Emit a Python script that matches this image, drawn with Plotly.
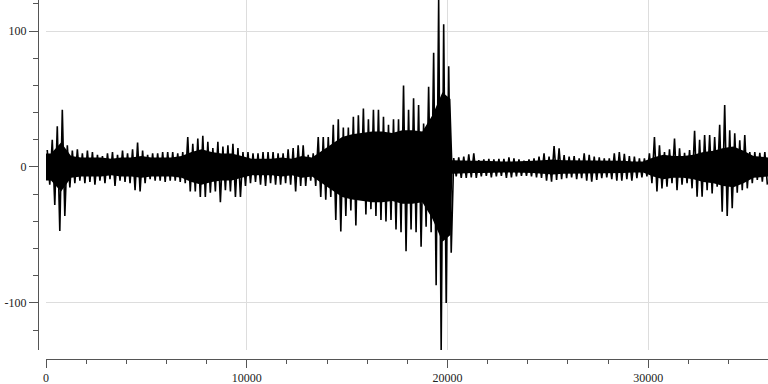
import plotly.graph_objects as go

# ---- data ----
# extremes (min/max) of the trace per 250-sample bin
bin_width = 250
n_samples = 35970

env_max = [
    12.5, 20, 30, 42, 16, 12, 13, 10, 12, 11,
    9, 8, 10, 11, 9, 12, 10, 13, 18, 12,
    9, 10, 10, 11, 11, 11, 10, 11, 22, 17,
    21, 23, 18.6, 14, 18.6, 15, 16, 17, 14, 11,
    11, 10, 10, 11, 11, 11, 10, 10, 13, 14,
    16, 16, 9, 10, 22, 22, 22, 31, 35, 29,
    29, 37, 38, 43, 35, 42, 42, 37, 31, 35,
    35, 60, 42, 50.5, 45.6, 32, 59, 84, 122.8, 105,
    74, 6.6, 7, 7.6, 9.3, 10, 5, 5.6, 6, 5.6,
    6, 6, 7, 6.4, 5.6, 4.6, 5.6, 6.4, 7.6, 10,
    7.6, 15.4, 13.7, 8.8, 7.6, 8, 6.4, 10, 9, 7.6,
    7, 6.4, 6.4, 10, 11, 9.6, 8, 7.6, 6.4, 6.4,
    10, 22, 16, 11, 13, 21, 13.7, 10.5, 12.5, 26.7,
    20, 23.5, 23.5, 22, 31, 45.6, 27, 24.7, 19.6, 23.5,
    11, 11, 10.5, 11,
]

env_min = [
    -13, -28, -47, -36, -15, -12, -10, -12, -11, -13,
    -10, -12, -9, -14, -10, -11, -12, -17, -18, -12,
    -9, -10, -10, -11, -10, -10, -11, -12, -18, -18,
    -22, -22, -19, -18, -26, -17, -18, -22, -22, -14,
    -12, -11, -13, -14, -12, -13, -13, -12, -13, -18,
    -14, -14, -10, -14, -22, -24, -22, -39, -47.5, -36,
    -32, -43, -24, -35, -31, -36, -39, -40, -39, -46,
    -48, -62, -46, -48, -58.6, -44, -48, -87, -134.6, -100,
    -63, -7, -8, -8, -7.6, -8, -7, -6.6, -7.6, -7,
    -6.6, -8, -7.6, -7, -6.6, -6.6, -7, -7.6, -8, -10,
    -10.8, -9.6, -9, -8.3, -7.6, -9, -8.3, -10, -10.8, -9.6,
    -8.3, -7.6, -9, -10, -10, -9, -10, -8.3, -7.6, -7,
    -12, -18, -15.7, -14.5, -12, -17, -13, -12, -15.7, -21.8,
    -21.8, -17, -19.4, -14.5, -33, -36, -30.4, -19, -17, -15.7,
    -12, -9.6, -10.8, -13,
]

# half-width of the dense solid core of the trace (sample index -> amplitude)
core_pos = [
    0, 250, 750, 1250, 1750, 2250, 2750, 3250, 3750, 4250,
    4750, 5250, 5750, 6250, 6750, 7250, 7750, 8250, 8750, 9250,
    9750, 10250, 10750, 11250, 11750, 12250, 12750, 13250, 13750, 14250,
    14750, 15250, 15750, 16250, 16750, 17250, 17750, 18250, 18750, 19250,
    19750, 20150, 20250, 20750, 21250, 21750, 22250, 22750, 23250, 23750,
    24250, 24750, 25250, 25750, 26250, 26750, 27250, 27750, 28250, 28750,
    29250, 29750, 30250, 30750, 31250, 31750, 32250, 32750, 33250, 33750,
    34250, 34750, 35250, 35750, 36000,
]
core_amp = [
    10, 10, 18, 8, 7, 7, 7, 6, 7, 7,
    8, 7, 7, 7, 8, 11, 13, 11, 10, 10,
    8, 6, 6, 6, 7, 6, 8, 7, 12, 17,
    22, 24, 25, 26, 26, 25, 27, 27, 26, 38,
    55, 50, 5, 4.5, 4.5, 4.5, 4, 4, 4, 4,
    4.5, 5, 5.5, 5, 5, 4.5, 4.5, 5, 5, 4.5,
    4, 4, 7, 9, 8, 8, 9, 11, 12, 14,
    15, 12, 8, 7, 7,
]

x_tick_vals = [0, 10000, 20000, 30000]
x_tick_text = ["0", "10000", "20000", "30000"]
y_tick_vals = [-100, 0, 100]
y_tick_text = ["-100", "0", "100"]

# ---- solid core band ----
core_hi = core_amp
core_lo = [-v for v in core_amp]

# ---- oscillation reaching each bin's extremes ----
xs, ys = [], []
for i, (hi, lo) in enumerate(zip(env_max, env_min)):
    start = i * bin_width
    xs.extend([start + bin_width * 0.25, start + bin_width * 0.75])
    ys.extend([hi, lo])

y_lo = min(env_min)
y_hi = max(env_max)

W, H = 768, 384
ml, mb = 38, 25
paper_w = W - ml
paper_h = H - mb

fig = go.Figure()
fig.add_trace(go.Scatter(
    x=core_pos, y=core_hi, mode="lines",
    line=dict(color="#000000", width=0),
    hoverinfo="skip", showlegend=False,
))
fig.add_trace(go.Scatter(
    x=core_pos, y=core_lo, mode="lines",
    line=dict(color="#000000", width=0),
    fill="tonexty", fillcolor="#000000",
    hoverinfo="skip", showlegend=False,
))
fig.add_trace(go.Scatter(
    x=xs, y=ys, mode="lines",
    line=dict(color="#000000", width=1.6),
    hoverinfo="skip", showlegend=False,
))

font = dict(family="Liberation Serif, Times New Roman, serif", size=12, color="#222222")
axis_col = "#555555"
grid_col = "#dddddd"

fig.update_layout(
    width=W, height=H,
    margin=dict(l=ml, r=0, t=0, b=mb, pad=0),
    paper_bgcolor="white", plot_bgcolor="white",
    font=font,
    showlegend=False,
    xaxis=dict(
        domain=[8 / paper_w, 1],
        anchor="free", position=0,
        range=[0, n_samples],
        tickmode="array", tickvals=x_tick_vals, ticktext=x_tick_text,
        ticks="outside", ticklen=8, tickwidth=1, tickcolor=axis_col,
        showline=True, linecolor=axis_col, linewidth=1,
        showgrid=True, gridcolor=grid_col, gridwidth=1,
        zeroline=False,
        minor=dict(dtick=2000, tick0=0, ticks="outside", ticklen=4,
                   tickcolor=axis_col, showgrid=False),
        tickfont=font,
    ),
    yaxis=dict(
        domain=[9 / paper_h, 1],
        anchor="free", position=0,
        range=[y_lo, y_hi],
        tickmode="array", tickvals=y_tick_vals, ticktext=y_tick_text,
        ticks="outside", ticklen=9, tickwidth=1, tickcolor=axis_col,
        showline=True, linecolor=axis_col, linewidth=1,
        showgrid=True, gridcolor=grid_col, gridwidth=1,
        zeroline=False,
        minor=dict(dtick=20, tick0=0, ticks="outside", ticklen=5,
                   tickcolor=axis_col, showgrid=False),
        tickfont=font,
    ),
)

fig.write_html("out.html")
